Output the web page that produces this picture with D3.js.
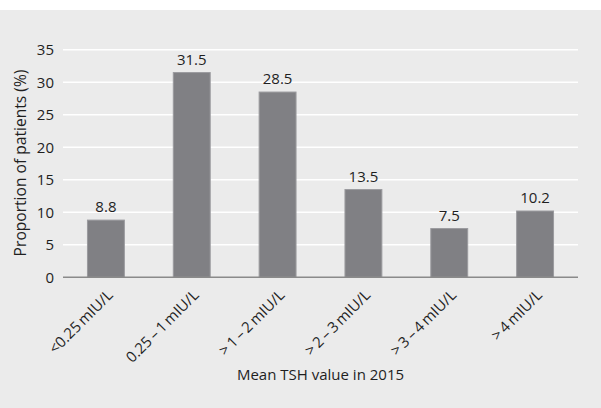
<!DOCTYPE html>
<meta charset="utf-8"/>
<style>
  body { margin: 0; background: #fff; }
  text { font-family: "Open Sans", "Liberation Sans", sans-serif; fill: #1f1f1f; }
</style>
<svg width="601" height="408"></svg>
<script src="https://d3js.org/d3.v7.min.js"></script>
<script>

// data
var categories = ["<0.25\u2009mIU/L", "0.25\u2009\u2013\u20091\u2009mIU/L", ">\u20091\u2009\u2013\u20092\u2009mIU/L",
                  ">\u20092\u2009\u2013\u20093\u2009mIU/L", ">\u20093\u2009\u2013\u20094\u2009mIU/L", ">\u20094\u2009mIU/L"]
var values = [8.8, 31.5, 28.5, 13.5, 7.5, 10.2]
var yTicks = [0, 5, 10, 15, 20, 25, 30, 35]

var svg = d3.select("svg")

// grey panel under a thin white strip
svg.append("rect")
    .attr("x", 0).attr("y", 10)
    .attr("width", 601).attr("height", 398)
    .attr("fill", "#ebebeb")

var plotLeft = 63, plotRight = 578, plotTop = 49.8, plotBottom = 277.3

var x = d3.scaleBand()
    .domain(categories)
    .range([plotLeft, plotRight])
    .paddingInner(0.57)
    .paddingOuter(0.285)

var y = d3.scaleLinear()
    .domain([0, 35])
    .range([plotBottom, plotTop])

// gridlines
svg.selectAll("line.grid")
  .data(yTicks.filter(function(d) { return d > 0 }))
  .enter().append("line")
    .attr("class", "grid")
    .attr("x1", plotLeft).attr("x2", plotRight)
    .attr("y1", function(d) { return y(d) })
    .attr("y2", function(d) { return y(d) })
    .attr("stroke", "#fff")
    .attr("stroke-width", 1.5)

// y tick labels
svg.selectAll("text.ytick")
  .data(yTicks)
  .enter().append("text")
    .attr("class", "ytick")
    .attr("x", 54)
    .attr("y", function(d) { return y(d) + 5.5 })
    .attr("text-anchor", "end")
    .style("font-size", "15px")
    .text(function(d) { return d })

// bars
svg.selectAll("rect.bar")
  .data(values)
  .enter().append("rect")
    .attr("class", "bar")
    .attr("x", function(d, i) { return x(categories[i]) })
    .attr("y", function(d) { return y(d) })
    .attr("width", x.bandwidth())
    .attr("height", function(d) { return plotBottom - y(d) })
    .attr("fill", "#808084")
    .attr("stroke", "#9b9b9f")
    .attr("stroke-width", 1)

// value labels
svg.selectAll("text.val")
  .data(values)
  .enter().append("text")
    .attr("class", "val")
    .attr("x", function(d, i) { return x(categories[i]) + x.bandwidth() / 2 })
    .attr("y", function(d) { return y(d) - 8 })
    .attr("text-anchor", "middle")
    .style("font-size", "15px")
    .text(function(d) { return d })

// baseline
svg.append("line")
    .attr("x1", plotLeft).attr("x2", plotRight)
    .attr("y1", plotBottom).attr("y2", plotBottom)
    .attr("stroke", "#8a8a8a")
    .attr("stroke-width", 1.5)

// category labels, rotated
svg.selectAll("text.xtick")
  .data(categories)
  .enter().append("text")
    .attr("class", "xtick")
    .attr("text-anchor", "end")
    .attr("transform", function(d) {
        return "translate(" + (x(d) + x.bandwidth() / 2 + 8) + ",296) rotate(-45)"
    })
    .style("font-size", "15px")
    .text(function(d) { return d })

// axis titles
svg.append("text")
    .attr("x", (plotLeft + plotRight) / 2)
    .attr("y", 380)
    .attr("text-anchor", "middle")
    .style("font-size", "15px")
    .text("Mean TSH value in 2015")

svg.append("text")
    .attr("transform", "translate(25.5,163) rotate(-90)")
    .attr("text-anchor", "middle")
    .style("font-size", "15.6px")
    .text("Proportion of patients (%)")

</script>
